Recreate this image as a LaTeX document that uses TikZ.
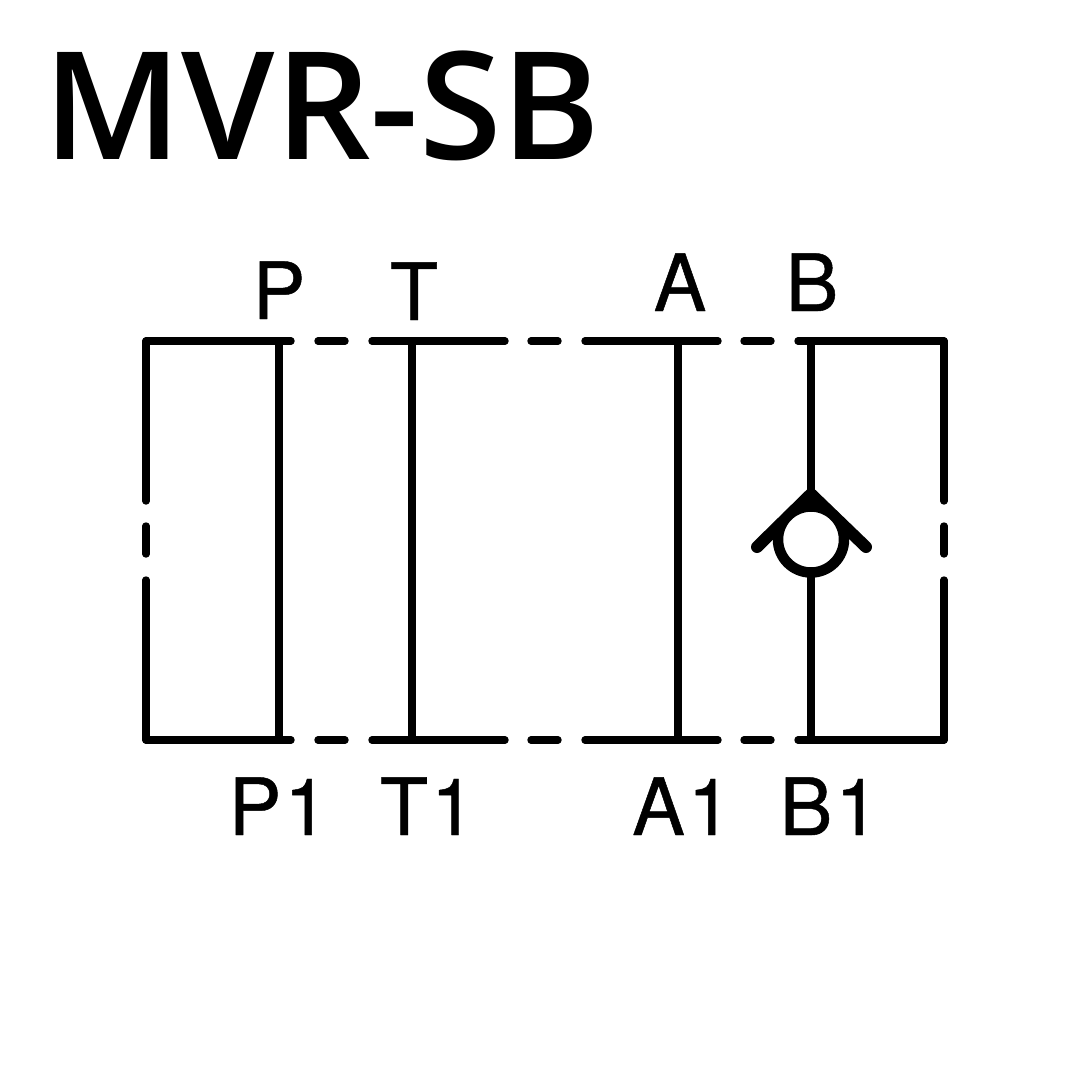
\documentclass[tikz,border=0pt]{standalone}
\usepackage{fontspec}
\setmainfont[FakeBold=0.6]{TeX Gyre Heros}
\newfontfamily\titlefont{Open Sans Semibold}
\tikzset{
	pipe/.style={line width=7.4pt},
	port/.style={inner sep=0pt, anchor=base, font=\fontsize{79}{79}\selectfont},
	valve/.style={line width=12pt}
}
\newcommand{\portone}[1]{#1\kern3pt 1}
\begin{document}
\begin{tikzpicture}[x=1pt, y=-1pt, line join=round, line cap=round]
	\useasboundingbox (0,0) rectangle (1080,1080);
	\node[inner sep=0pt, anchor=base] (title) at (322,159) {\titlefont\fontsize{150}{150}\selectfont MVR-SB};
	% frame, dashed by hand
	\foreach \a/\b in {146/291,318/345,372/505,531/558,585/718,744/771,798/944}{
		\draw[pipe] (\a,341)--(\b,341);
		\draw[pipe] (\a,740)--(\b,740);
	}
	\foreach \x in {146,944}{
		\draw[pipe] (\x,341)--(\x,501);
		\draw[pipe] (\x,526)--(\x,554);
		\draw[pipe] (\x,580)--(\x,740);
	}
	% ports
	\coordinate (P) at (279,341);
	\coordinate (P1) at (279,740);
	\coordinate (T) at (412,341);
	\coordinate (T1) at (412,740);
	\coordinate (A) at (678,341);
	\coordinate (A1) at (678,740);
	\coordinate (B) at (811,341);
	\coordinate (B1) at (811,740);
	\foreach \x in {P,T,A}
		\draw[pipe,line cap=butt] (\x)--(\x1);
	% check valve
	\coordinate (apex) at (811,494);
	\coordinate (seat) at (811,539.5);
	\coordinate (armL) at (757,547);
	\coordinate (armR) at (866,547);
	\coordinate (seatB) at (811,575);
	\draw[pipe,line cap=butt] (B)--(apex);
	\draw[pipe,line cap=butt] (B1)--(seatB);
	\fill (apex)--(788.3,516.7)--(833.7,516.7)--cycle;
	\draw[valve,line join=miter] (armL)--(apex)--(armR);
	\draw[line width=10.5pt,fill=white] (seat) circle (33);
	% labels
	\node[port] (lblP) at (279,319) {P};
	\node[port] (lblT) at (414,320) {T};
	\node[port] (lblA) at (680,311) {A};
	\node[port] (lblB) at (812,311) {B};
	\node[port] (lblP1) at (278.5,835) {\portone{P}};
	\node[port] (lblT1) at (427.5,835) {\portone{T}};
	\node[port] (lblA1) at (682,835) {\portone{A}};
	\node[port] (lblB1) at (829.5,835) {\portone{B}};
\end{tikzpicture}
\end{document}
